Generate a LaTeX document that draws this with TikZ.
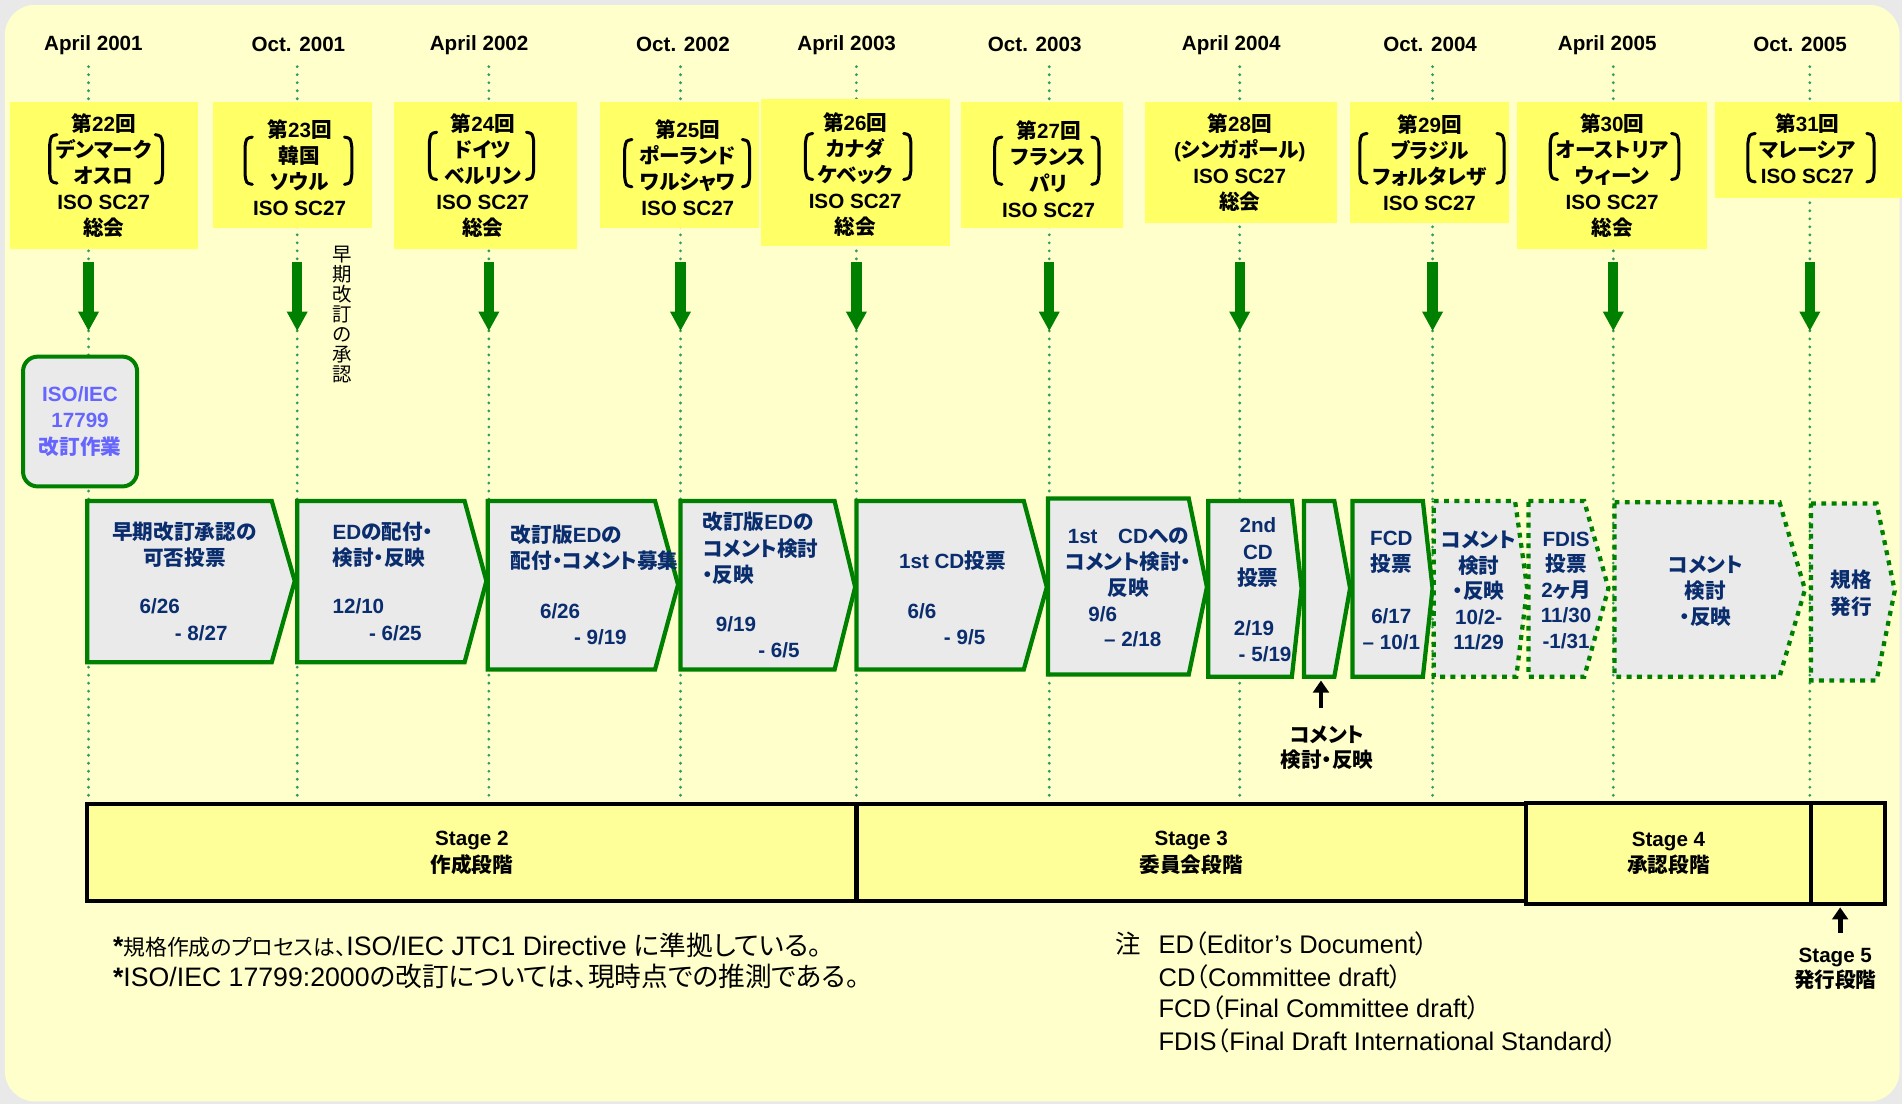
\documentclass[tikz,border=0pt]{standalone}
\usepackage{fontspec}
\setmainfont{Liberation Sans}
\newfontfamily\jpf{Noto Sans CJK JP}[RawFeature=+palt]
\makeatletter
\XeTeXinterchartokenstate=1
\newXeTeXintercharclass\cjkcls
\newcount\cjkcnt
\cjkcnt="3000
\loop
  \XeTeXcharclass\cjkcnt=\cjkcls
  \ifnum\cjkcnt<"9FFF \advance\cjkcnt by 1
\repeat
\cjkcnt="FF00
\loop
  \XeTeXcharclass\cjkcnt=\cjkcls
  \ifnum\cjkcnt<"FFEF \advance\cjkcnt by 1
\repeat
\XeTeXinterchartoks 0 \cjkcls = {\jpf}
\XeTeXinterchartoks \e@alloc@intercharclass@top \cjkcls = {\jpf}
\XeTeXinterchartoks \cjkcls 0 = {\rmfamily}
\XeTeXinterchartoks \cjkcls \e@alloc@intercharclass@top = {\rmfamily}
\makeatother
\usetikzlibrary{arrows.meta}
\definecolor{bggray}{HTML}{E9E9E9}
\definecolor{panel}{HTML}{FFFFCC}
\definecolor{mtgfill}{HTML}{FFFF66}
\definecolor{dotgreen}{HTML}{339966}
\definecolor{bordgreen}{HTML}{008000}
\definecolor{chevfill}{HTML}{EAEAEA}
\definecolor{navy}{HTML}{0A2D6E}
\definecolor{isoblue}{HTML}{6666FF}
\definecolor{stagefill}{HTML}{FFFF99}
\newcommand{\mtgbrk}[4]{%
  \draw[brackstyle] (#1+6,#3) .. controls (#1+1,#3+1) .. (#1,#3+8) -- (#1,#4-8) .. controls (#1+1,#4-1) .. (#1+6,#4);
  \draw[brackstyle] (#2-6,#3) .. controls (#2-1,#3+1) .. (#2,#3+8) -- (#2,#4-8) .. controls (#2-1,#4-1) .. (#2-6,#4);
}
\begin{document}
\begin{tikzpicture}[x=1pt,y=-1pt,
  mtgbox/.style={fill=mtgfill, draw=none, inner sep=0pt, outer sep=0pt},
  mtgtext/.style={align=center, inner sep=0pt, font=\fontsize{17}{21.5}\selectfont\bfseries, text=black},
  monthlbl/.style={inner sep=0pt, font=\fontsize{17}{20}\selectfont\bfseries},
  timeline/.style={draw=dotgreen, line width=2.6pt, line cap=round, dash pattern=on 0pt off 6.6pt},
  greenarrow/.style={draw=bordgreen, line width=8.5pt, -{Triangle[length=16pt,width=16pt]}},
  blackarrow/.style={draw=black, line width=4pt, -{Triangle[length=10pt,width=13pt]}},
  chevsolid/.style={draw=bordgreen, fill=chevfill, line width=3.5pt},
  chevdotted/.style={draw=bordgreen, fill=chevfill, line width=3.5pt, dash pattern=on 4pt off 4.5pt},
  chevtext/.style={inner sep=0pt, text=navy, font=\fontsize{17}{21.5}\selectfont\bfseries},
  isobox/.style={draw=bordgreen, fill=chevfill, line width=3.3pt, rounded corners=12pt, align=center, text=isoblue, font=\fontsize{17}{22}\selectfont\bfseries, inner sep=0pt},
  stagebox/.style={draw=black, fill=stagefill, line width=3.5pt, align=center, inner sep=0pt, font=\fontsize{17}{22}\selectfont\bfseries},
  blacklbl/.style={align=center, inner sep=0pt, font=\fontsize{17}{21}\selectfont\bfseries},
  vtext/.style={align=center, inner sep=0pt, font=\fontsize{16}{16.5}\selectfont},
  notetext/.style={inner sep=0pt, anchor=west, font=\fontsize{22}{26}\selectfont},
  rnote/.style={inner sep=0pt, anchor=west, font=\fontsize{21}{26}\selectfont},
  brackstyle/.style={draw=black, line width=2.5pt, line cap=round}
]
\useasboundingbox (0,0) rectangle (1568,910);
\fill[bggray] (0,0) rectangle (1568,910);
\fill[panel, rounded corners=25pt] (4,4) rectangle (1566,908);

% month labels
\node[monthlbl] (mo1) at (77,37) {April 2001};
\node[monthlbl] (mo2) at (246,37) {Oct. 2001};
\node[monthlbl] (mo3) at (395,37) {April 2002};
\node[monthlbl] (mo4) at (563,37) {Oct. 2002};
\node[monthlbl] (mo5) at (698,37) {April 2003};
\node[monthlbl] (mo6) at (853,37) {Oct. 2003};
\node[monthlbl] (mo7) at (1015,37) {April 2004};
\node[monthlbl] (mo8) at (1179,37) {Oct. 2004};
\node[monthlbl] (mo9) at (1325,37) {April 2005};
\node[monthlbl] (mo10) at (1484,37) {Oct. 2005};

% dotted time lines
\foreach \x [count=\i] in {73,245,403,561,706,865,1022,1181,1330,1492} {
  \coordinate (lt\i) at (\x,55);
  \coordinate (lb\i) at (\x,662);
  \draw[timeline] (lt\i) -- (lb\i);
}

% meeting boxes
\node[mtgbox, minimum width=155pt, minimum height=121pt] (m22) at (85.5,144.5) {};
\node[mtgbox, minimum width=131pt, minimum height=104pt] (m23) at (241.5,136) {};
\node[mtgbox, minimum width=151pt, minimum height=121pt] (m24) at (400.5,144.5) {};
\node[mtgbox, minimum width=131pt, minimum height=104pt] (m25) at (560.5,136) {};
\node[mtgbox, minimum width=156pt, minimum height=121pt] (m26) at (705,142.5) {};
\node[mtgbox, minimum width=134pt, minimum height=104pt] (m27) at (859,136) {};
\node[mtgbox, minimum width=158pt, minimum height=100pt] (m28) at (1023,134) {};
\node[mtgbox, minimum width=131pt, minimum height=100pt] (m29) at (1178.5,134) {};
\node[mtgbox, minimum width=156pt, minimum height=121pt] (m30) at (1329,144.5) {};
\node[mtgbox, minimum width=154pt, minimum height=79pt] (m31) at (1491,123.5) {};

\node[mtgtext] (t22) at (85.5,145) {第22回\\デンマーク\\オスロ\\ISO SC27\\総会};
\node[mtgtext] (t23) at (247,138.5) {第23回\\韓国\\ソウル\\ISO SC27};
\node[mtgtext] (t24) at (398,145) {第24回\\ドイツ\\ベルリン\\ISO SC27\\総会};
\node[mtgtext] (t25) at (567,138.5) {第25回\\ポーランド\\ワルシャワ\\ISO SC27};
\node[mtgtext] (t26) at (705,144) {第26回\\カナダ\\ケベック\\ISO SC27\\総会};
\node[mtgtext] (t27) at (864.5,139.5) {第27回\\フランス\\パリ\\ISO SC27};
\node[mtgtext] (t28) at (1022,134) {第28回\\(シンガポール)\\ISO SC27\\総会};
\node[mtgtext] (t29) at (1178.5,134) {第29回\\ブラジル\\フォルタレザ\\ISO SC27};
\node[mtgtext] (t30) at (1329,145) {第30回\\オーストリア\\ウィーン\\ISO SC27\\総会};
\node[mtgtext] (t31) at (1490,122.5) {第31回\\マレーシア\\ISO SC27};

\mtgbrk{41}{134}{111}{151}
\mtgbrk{202}{290}{113}{152}
\mtgbrk{354}{440}{109}{148}
\mtgbrk{515}{618}{115}{154}
\mtgbrk{664}{751}{110}{148}
\mtgbrk{820}{906}{113}{152}
\mtgbrk{1121}{1240}{110}{151}
\mtgbrk{1278}{1384}{110}{148}
\mtgbrk{1441}{1545}{110}{150}

% green arrows
\foreach \x [count=\i] in {73,245,403,561,706,865,1022,1181,1330,1492} {
  \coordinate (as\i) at (\x,216);
  \coordinate (ae\i) at (\x,273);
  \draw[greenarrow] (as\i) -- (ae\i);
}

% vertical text
\node[vtext] (early) at (282,259.5) {早\\期\\改\\訂\\の\\承\\認};

% ISO box
\node[isobox, minimum width=94pt, minimum height=107pt] (iso) at (66,347.5) {ISO/IEC\\17799\\改訂作業};

% chevrons
\draw[chevsolid] (72,413) -- (224,413) -- (243,479) -- (224,546) -- (72,546) -- cycle;
\draw[chevsolid] (245,413) -- (383,413) -- (401,479) -- (383,546) -- (245,546) -- cycle;
\draw[chevsolid] (402,413) -- (540,413) -- (559,482) -- (540,552) -- (402,552) -- cycle;
\draw[chevsolid] (561,413) -- (688,413) -- (705,484) -- (688,552) -- (561,552) -- cycle;
\draw[chevsolid] (706,413) -- (844,413) -- (863,484) -- (844,552) -- (706,552) -- cycle;
\draw[chevsolid] (864,411) -- (980,411) -- (995,484) -- (980,556) -- (864,556) -- cycle;
\draw[chevsolid] (996,413) -- (1065,413) -- (1073,485) -- (1065,558) -- (996,558) -- cycle;
\draw[chevsolid] (1075,413) -- (1100,413) -- (1113,485) -- (1100,558) -- (1075,558) -- cycle;
\draw[chevsolid] (1115,413) -- (1173,413) -- (1181,485) -- (1173,558) -- (1115,558) -- cycle;
\draw[chevdotted] (1182,413) -- (1249,413) -- (1259,485) -- (1250,558) -- (1182,558) -- cycle;
\draw[chevdotted] (1260,413) -- (1306,413) -- (1326,485) -- (1306,558) -- (1260,558) -- cycle;
\draw[chevdotted] (1331,414) -- (1467,414) -- (1488,486) -- (1467,558) -- (1331,558) -- cycle;
\draw[chevdotted] (1493,415) -- (1547,415) -- (1562,487) -- (1547,561) -- (1493,561) -- cycle;

% chevron texts
\node[chevtext, align=center] (c1a) at (152,449) {早期改訂承認の\\可否投票};
\node[chevtext, anchor=west] (c1b) at (115,500) {6/26};
\node[chevtext, anchor=west] (c1c) at (144,522) {- 8/27};
\node[chevtext, align=left, anchor=west] (c2a) at (274,449) {EDの配付・\\検討・反映};
\node[chevtext, anchor=west] (c2b) at (274,500) {12/10};
\node[chevtext, anchor=west] (c2c) at (304,522) {- 6/25};
\node[chevtext, align=left, anchor=west] (c3a) at (421,451.5) {改訂版EDの\\配付・コメント募集};
\node[chevtext, anchor=west] (c3b) at (445,504) {6/26};
\node[chevtext, anchor=west] (c3c) at (473,525) {- 9/19};
\node[chevtext, align=left, anchor=west] (c4a) at (579,452) {改訂版EDの\\コメント検討\\・反映};
\node[chevtext, anchor=west] (c4b) at (590,515) {9/19};
\node[chevtext, anchor=west] (c4c) at (625,536) {- 6/5};
\node[chevtext, anchor=west] (c5a) at (741,462) {1st CD投票};
\node[chevtext, anchor=west] (c5b) at (748,504) {6/6};
\node[chevtext, anchor=west] (c5c) at (778,525) {- 9/5};
\node[chevtext, align=center] (c6a) at (930,464) {1st　CDへの\\コメント検討・\\反映};
\node[chevtext, anchor=west] (c6b) at (897,506) {9/6};
\node[chevtext, anchor=west] (c6c) at (910,527) {– 2/18};
\node[chevtext, align=center] (c7a) at (1037,455.5) {2nd\\CD\\投票};
\node[chevtext, anchor=west] (c7b) at (1017,518) {2/19};
\node[chevtext, anchor=west] (c7c) at (1021,539) {- 5/19};
\node[chevtext, align=center] (c9a) at (1147,455) {FCD\\投票};
\node[chevtext, align=center] (c9b) at (1147,518.5) {6/17\\– 10/1};
\node[chevtext, align=center, font=\fontsize{17}{21}\selectfont\bfseries] (c10) at (1219,487) {コメント\\検討\\・反映\\10/2-\\11/29};
\node[chevtext, align=center, font=\fontsize{17}{21}\selectfont\bfseries] (c11) at (1291,486.5) {FDIS\\投票\\2ヶ月\\11/30\\-1/31};
\node[chevtext, align=center] (c12) at (1406,487.5) {コメント\\検討\\・反映};
\node[chevtext, align=center] (c13) at (1526,489) {規格\\発行};

% comment arrow
\coordinate (cab) at (1089,584);
\coordinate (cat) at (1089,561);
\draw[blackarrow] (cab) -- (cat);
\node[blacklbl] (cmt) at (1094,616.5) {コメント\\検討・反映};

% stages
\node[stagebox, minimum width=634pt, minimum height=80pt] (st2) at (389,703) {Stage 2\\作成段階};
\node[stagebox, minimum width=552pt, minimum height=80pt] (st3) at (982,703) {Stage 3\\委員会段階};
\node[stagebox, minimum width=235pt, minimum height=83pt] (st4) at (1375.5,703.5) {Stage 4\\承認段階};
\node[stagebox, minimum width=61pt, minimum height=83pt] (st5) at (1523.5,703.5) {};

\coordinate (s5b) at (1517,769);
\coordinate (s5t) at (1517,748);
\draw[blackarrow] (s5b) -- (s5t);
\node[blacklbl] (s5lbl) at (1513,798.5) {Stage 5\\発行段階};

% notes
\node[notetext] (n1) at (93,779) {{\fontsize{22}{22}\selectfont\bfseries *}{\fontsize{18}{18}\selectfont 規格作成のプロセスは、}ISO/IEC JTC1 Directive に準拠している。};
\node[notetext] (n2) at (93,805) {{\bfseries *}ISO/IEC 17799:2000の改訂については、現時点での推測である。};

\node[rnote, anchor=center] (chu) at (930,778) {注};
\node[rnote] (r1) at (955,778) {ED（Editor’s Document）};
\node[rnote] (r2) at (955,805) {CD（Committee draft）};
\node[rnote] (r3) at (955,831) {FCD（Final Committee draft）};
\node[rnote] (r4) at (955,858) {FDIS（Final Draft International Standard）};
\end{tikzpicture}
\end{document}
